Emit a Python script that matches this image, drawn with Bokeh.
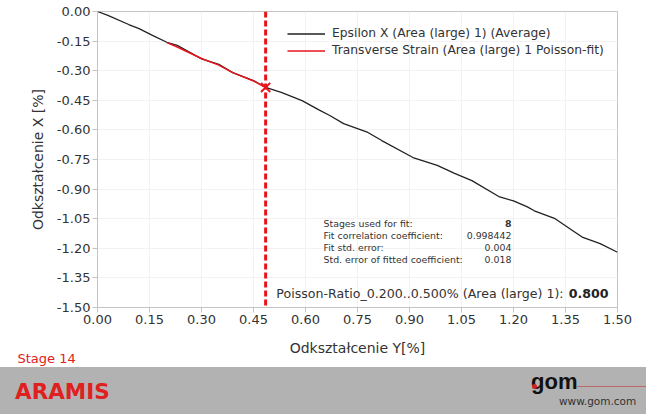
from bokeh.plotting import figure
from bokeh.models import (Range1d, FixedTicker, NumeralTickFormatter, Span, Label,
                          Legend, LegendItem, ColumnDataSource, Title, Div)
from bokeh.layouts import column
from bokeh.embed import file_html
from bokeh.resources import INLINE

# ---- data ----
strain_y = [0.00, 0.03, 0.09, 0.12, 0.16, 0.20, 0.23, 0.30, 0.35, 0.39, 0.45, 0.485,
            0.53, 0.59, 0.64, 0.67, 0.71, 0.78, 0.82, 0.91, 0.98, 1.03, 1.08, 1.16,
            1.20, 1.24, 1.26, 1.32, 1.40, 1.45, 1.50]
strain_x = [0.000, -0.020, -0.066, -0.087, -0.122, -0.156, -0.172, -0.240, -0.268, -0.310,
            -0.350, -0.385, -0.410, -0.452, -0.500, -0.527, -0.568, -0.613, -0.654, -0.740,
            -0.780, -0.820, -0.857, -0.940, -0.960, -0.990, -1.010, -1.050, -1.145, -1.176,
            -1.220]
fit_y = [0.20, 0.23, 0.30, 0.35, 0.39, 0.45, 0.485]
fit_x = [-0.158, -0.180, -0.238, -0.272, -0.310, -0.352, -0.385]
marker_y = [0.485]
marker_x = [-0.385]
x_ticks = [0.00, 0.15, 0.30, 0.45, 0.60, 0.75, 0.90, 1.05, 1.20, 1.35, 1.50]
y_ticks = [0.00, -0.15, -0.30, -0.45, -0.60, -0.75, -0.90, -1.05, -1.20, -1.35, -1.50]
stats_labels = ["Stages used for fit:", "Fit correlation coefficient:",
                "Fit std. error:", "Std. error of fitted coefficient:"]
stats_values = ["8", "0.998442", "0.004", "0.018"]
poisson_text = "Poisson-Ratio_0.200..0.500% (Area (large) 1): "
poisson_value = "0.800"
series_names = ["Epsilon X (Area (large) 1) (Average)",
                "Transverse Strain (Area (large) 1 Poisson-fit)"]

FONT = "DejaVu Sans"
RED = "#e8141c"
TXT = "#333333"
AX = "#c4c4c4"

p = figure(width=646, height=367, x_range=Range1d(0, 1.5), y_range=Range1d(-1.5, 0),
           output_backend="svg", toolbar_location=None,
           min_border_left=97, min_border_right=29, min_border_top=11, min_border_bottom=60)
p.background_fill_color = "white"
p.border_fill_color = "white"
p.outline_line_color = AX

for ax, ticks in ((p.xaxis, x_ticks), (p.yaxis, y_ticks)):
    ax.ticker = FixedTicker(ticks=ticks)
    ax.formatter = NumeralTickFormatter(format="0.00")
    ax.axis_line_color = AX
    ax.major_tick_line_color = AX
    ax.major_tick_out = 5
    ax.major_tick_in = 0
    ax.minor_tick_line_color = None
    ax.major_label_text_font = FONT
    ax.major_label_text_font_size = "13px"
    ax.major_label_text_color = TXT
    ax.axis_label_text_font = FONT
    ax.axis_label_text_font_size = "14px"
    ax.axis_label_text_font_style = "normal"
    ax.axis_label_text_color = TXT

p.xaxis.axis_label = "Odkształcenie Y[%]"
p.yaxis.axis_label = "Odkształcenie X [%]"
p.xaxis.major_label_standoff = 2
p.yaxis.major_label_standoff = 2
p.xaxis.axis_label_standoff = 13
p.yaxis.axis_label_standoff = 8

p.xgrid.ticker = FixedTicker(ticks=x_ticks)
p.ygrid.ticker = FixedTicker(ticks=y_ticks)
p.grid.grid_line_color = "#f2f2f2"

src = ColumnDataSource(dict(x=strain_y, y=strain_x))
fsrc = ColumnDataSource(dict(x=fit_y, y=fit_x))
r1 = p.line("x", "y", source=src, line_color="#222222", line_width=1.3)
r2 = p.line("x", "y", source=fsrc, line_color=RED, line_width=1.5)

p.add_layout(Span(location=marker_y[0], dimension="height", line_color=RED,
                  line_width=3, line_dash="6 3"))
p.scatter(marker_y, marker_x, marker="x", size=13, line_color=RED, line_width=2)

legend = Legend(items=[LegendItem(label=series_names[0], renderers=[r1]),
                       LegendItem(label=series_names[1], renderers=[r2])],
                location=(190, 249.5), padding=0, margin=0, spacing=2,
                label_height=15, glyph_height=15, glyph_width=38, label_standoff=7,
                label_text_font=FONT, label_text_font_size="12.3px",
                label_text_color=TXT, border_line_color=None,
                background_fill_alpha=0)
p.add_layout(legend)

# fit statistics
for i, (lab, val) in enumerate(zip(stats_labels, stats_values)):
    yy = -1.0745 - i * 0.0608
    p.add_layout(Label(x=0.652, y=yy, text=lab, text_font=FONT, text_font_size="9.4px",
                       text_color=TXT, text_baseline="middle"))
    p.add_layout(Label(x=1.194, y=yy, text=val, text_font=FONT, text_font_size="9.4px",
                       text_color=TXT, text_baseline="middle", text_align="right",
                       text_font_style="bold" if i == 0 else "normal"))

p.add_layout(Label(x=1.356, y=-1.429, text=poisson_text, text_font=FONT,
                   text_font_size="12.6px", text_color=TXT, text_baseline="middle",
                   text_align="right"))
p.add_layout(Label(x=1.474, y=-1.429, text=poisson_value, text_font=FONT,
                   text_font_size="12.6px", text_color="#222222", text_baseline="middle",
                   text_align="right", text_font_style="bold"))

p.add_layout(Title(text="Stage 14", align="left", offset=-80, standoff=-16,
                   vertical_align="top",
                   text_font=FONT, text_font_size="13px", text_font_style="normal",
                   text_color="#e02020"), "below")

footer_html = """
<div style="position:relative;width:646px;height:47px;background:#b2b2b2;overflow:hidden;font-family:'DejaVu Sans';">
 <span style="position:absolute;left:15px;top:13px;font-size:21.5px;line-height:24px;font-weight:bold;color:#e02020;">ARAMIS</span>
 <span style="position:absolute;left:531px;top:4px;font-family:'Liberation Sans';font-size:22px;line-height:22px;font-weight:bold;color:#111111;">gom</span>
 <span style="position:absolute;left:532px;top:17px;width:5px;height:5px;border-radius:50%;background:#d42020;"></span>
 <span style="position:absolute;left:577px;top:19px;width:69px;height:1px;background:#c06868;"></span>
 <span style="position:absolute;left:559px;top:28px;font-size:10.5px;line-height:12px;color:#333333;">www.gom.com</span>
</div>
"""
footer = Div(text=footer_html, width=646, height=47,
             styles={"background-color": "#b2b2b2", "margin": "0", "padding": "0"})

layout = column(p, footer, spacing=0)
open("out.html", "w").write(file_html(layout, INLINE))
